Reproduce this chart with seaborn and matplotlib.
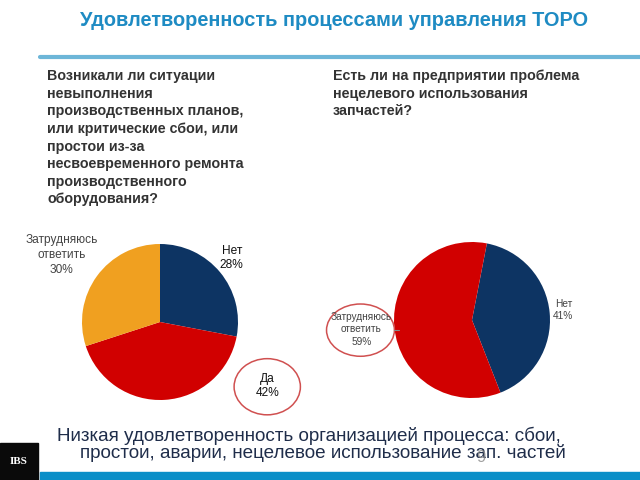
import matplotlib
matplotlib.use("Agg")
import matplotlib.pyplot as plt
import seaborn as sns
from matplotlib.patches import Ellipse

sns.set_theme(style="white")
plt.rcParams['font.family'] = ['Liberation Sans', 'DejaVu Sans']

# data
left_labels = ["Нет", "Да", "Затрудняюсь\nответить"]
left_values = [28, 42, 30]
right_labels = ["Нет", "Затрудняюсь\nответить"]
right_values = [41, 59]

navy = "#0D3463"
red = "#D10000"
orange = "#F0A020"

W, H = 640, 480
fig = plt.figure(figsize=(6.4, 4.8), dpi=100)
fig.patch.set_facecolor("white")

def px_axes(cx, cy, r):
    return fig.add_axes([(cx - r) / W, (H - cy - r) / H, 2 * r / W, 2 * r / H])

# title + rule
fig.text(80 / W, 1 - 21 / H, "Удовлетворенность процессами управления ТОРО",
         fontsize=14.4, fontweight="bold", color="#1E8BC3", va="center", ha="left")
fig.add_artist(plt.Line2D([40 / W, 1], [1 - 57 / H, 1 - 57 / H], color="#6DB6D8", lw=3))

# questions
q_left = ("Возникали ли ситуации\nневыполнения\nпроизводственных планов,\n"
          "или критические сбои, или\nпростои из-за\nнесвоевременного ремонта\n"
          "производственного\nоборудования?")
q_right = "Есть ли на предприятии проблема\nнецелевого использования\nзапчастей?"
fig.text(47 / W, 1 - 69 / H, q_left, fontsize=10.3, fontweight="bold", color="#333333",
         va="top", ha="left", linespacing=1.33)
fig.text(333 / W, 1 - 69 / H, q_right, fontsize=10.3, fontweight="bold", color="#333333",
         va="top", ha="left", linespacing=1.33)

lab_kw = dict(fontsize=7.3, color="#444444", ha="center", va="center", linespacing=1.3)

# left pie
ax1 = px_axes(160, 322, 78)
ax1.pie(left_values, colors=[navy, red, orange], startangle=90, counterclock=False,
        radius=1, wedgeprops=dict(linewidth=0))
ax1.set_xlim(-1, 1)
ax1.set_ylim(-1, 1)
ax1.set_aspect("equal")
ax1.axis("off")
ax1.text(0.92, 0.82, f"{left_labels[0]}\n{left_values[0]}%", clip_on=False,
         **{**lab_kw, "color": "#111111", "fontsize": 8.6})
ax1.text(1.38, -0.82, f"{left_labels[1]}\n{left_values[1]}%", clip_on=False,
         **{**lab_kw, "color": "#111111", "fontsize": 8.6})
ax1.text(-1.26, 0.86, f"{left_labels[2]}\n{left_values[2]}%", clip_on=False,
         **{**lab_kw, "fontsize": 8.6})
ax1.add_patch(Ellipse((1.375, -0.83), 0.85, 0.72, fill=False, ec="#D05050", lw=1.1,
                      clip_on=False))

# right pie
ax2 = px_axes(472, 320, 78)
ax2.pie(right_values, colors=[navy, red], startangle=79, counterclock=False,
        radius=1, wedgeprops=dict(linewidth=0))
ax2.set_xlim(-1, 1)
ax2.set_ylim(-1, 1)
ax2.set_aspect("equal")
ax2.axis("off")
ax2.text(1.17, 0.13, f"{right_labels[0]}\n{right_values[0]}%", clip_on=False, **lab_kw)
ax2.text(-1.42, -0.12, f"{right_labels[1]}\n{right_values[1]}%", clip_on=False, **lab_kw)
ax2.add_patch(Ellipse((-1.43, -0.13), 0.87, 0.67, fill=False, ec="#D05050", lw=1.1,
                      clip_on=False))
ax2.plot([-0.995, -0.94], [-0.13, -0.13], color="#888888", lw=0.8, clip_on=False)

# conclusion
fig.text(309 / W, 1 - 436 / H, "Низкая удовлетворенность организацией процесса: сбои,",
         fontsize=13.6, color="#1F2D4A", ha="center", va="center")
fig.text(323 / W, 1 - 453 / H, "простои, аварии, нецелевое использование зап. частей",
         fontsize=13.6, color="#1F2D4A", ha="center", va="center")
fig.text(481 / W, 1 - 458 / H, "9", fontsize=12, color="#888888", ha="center", va="center",
         alpha=0.8)

# bottom bar and logo
fig.add_artist(plt.Rectangle((40 / W, 0), 1 - 40 / W, 8 / H, color="#0A8FC8",
                             transform=fig.transFigure))
fig.add_artist(plt.Rectangle((0, 0), 38 / W, 37 / H, color="#0A0A0A",
                             transform=fig.transFigure))
fig.text(19 / W, 18 / H, "IBS", fontsize=8, fontweight="bold", color="white",
         family="Liberation Serif", ha="center", va="center")

fig.savefig("out.png", dpi=100, facecolor="white")
